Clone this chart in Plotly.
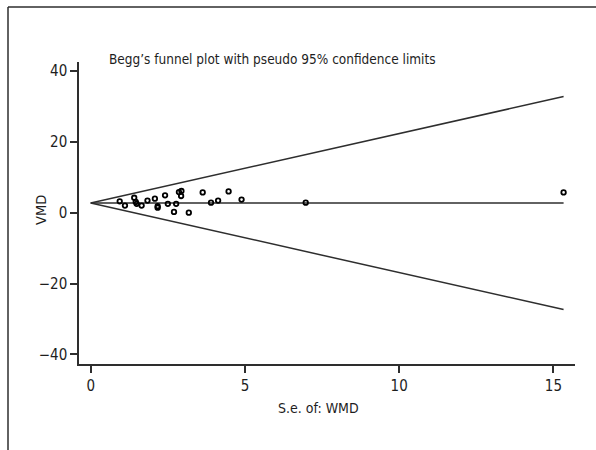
import plotly.graph_objects as go

# Study-level standard errors and weighted mean differences
se_wmd = [0.94, 1.11, 1.41, 1.46, 1.49, 1.65, 1.84, 2.08, 2.17, 2.17, 2.41, 2.50,
          2.70, 2.77, 2.86, 2.94, 2.93, 3.18, 3.63, 3.90, 4.13, 4.47, 4.89, 6.97, 15.33]
vmd = [3.2, 2.0, 4.2, 3.0, 2.5, 2.0, 3.4, 3.95, 1.8, 1.4, 4.9, 2.5,
       0.2, 2.5, 5.8, 6.1, 4.7, 0.0, 5.7, 2.8, 3.4, 6.0, 3.7, 2.8, 5.7]

pooled = 2.7          # pooled estimate (funnel centre)
z95 = 1.96            # pseudo 95% limits
se_max = max(se_wmd)

x_ticks = [0, 5, 10, 15]
y_ticks = [-40, -20, 0, 20, 40]

FONT = "Liberation Sans Narrow, DejaVu Sans Condensed, Arial Narrow, sans-serif"
LINE = "#2e2e2e"
INK = "#1e1e1e"

fig = go.Figure()

# funnel limits and pooled line
for y_end in (pooled + z95 * se_max, pooled - z95 * se_max, pooled):
    fig.add_trace(go.Scatter(x=[0, se_max], y=[pooled, y_end], mode="lines",
                             line=dict(color=LINE, width=1.5), showlegend=False, hoverinfo="skip"))

# individual studies
fig.add_trace(go.Scatter(x=se_wmd, y=vmd, mode="markers",
                         marker=dict(symbol="circle-open", size=4.5, color="#000000",
                                     line=dict(width=1.8, color="#000000")),
                         showlegend=False))

W, H = 596, 450
L, R, T, B = 79, 21, 62, 86
pw, ph = W - L - R, H - T - B


def px_x(p):
    return (p - L) / pw


def px_y(p):
    return (H - B - p) / ph


axis_common = dict(showgrid=False, zeroline=False, showline=True, linecolor=LINE, linewidth=1.5,
                   ticks="outside", ticklen=7, tickwidth=1.5, tickcolor=LINE,
                   tickfont=dict(family=FONT, size=15, color=INK))

fig.update_layout(
    width=W, height=H,
    margin=dict(l=L, r=R, t=T, b=B),
    paper_bgcolor="white", plot_bgcolor="white",
    xaxis=dict(range=[-0.38, 15.7], tickvals=x_ticks, **axis_common),
    yaxis=dict(range=[-42.7, 42.5], tickvals=y_ticks, **axis_common),
    annotations=[
        dict(text="Begg’s funnel plot with pseudo 95% confidence limits", xref="paper", yref="paper",
             x=px_x(107), y=px_y(59), xanchor="left", yanchor="middle", showarrow=False,
             font=dict(family=FONT, size=13.5, color=INK)),
        dict(text="S.e. of: WMD", xref="paper", yref="paper",
             x=px_x(318), y=px_y(408), xanchor="center", yanchor="middle", showarrow=False,
             font=dict(family=FONT, size=14, color=INK)),
        dict(text="VMD", xref="paper", yref="paper", textangle=-90,
             x=px_x(41), y=px_y(210), xanchor="center", yanchor="middle", showarrow=False,
             font=dict(family=FONT, size=14.5, color=INK)),
    ],
    shapes=[
        dict(type="line", xref="paper", yref="paper", x0=px_x(8), x1=px_x(8), y0=px_y(7), y1=px_y(450),
             line=dict(color=LINE, width=1.5)),
        dict(type="line", xref="paper", yref="paper", x0=px_x(8), x1=px_x(596), y0=px_y(7), y1=px_y(7),
             line=dict(color=LINE, width=1.5)),
    ],
)

fig.write_html("out.html")
